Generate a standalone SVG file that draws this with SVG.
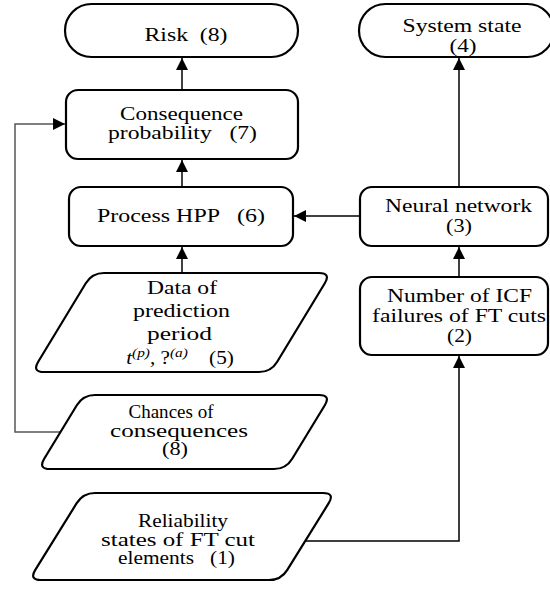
<svg xmlns="http://www.w3.org/2000/svg" width="550" height="589" viewBox="0 0 550 589">
<style>
.shape{fill:#fff;stroke:#000;stroke-width:2.2}
.t{font-family:'Liberation Serif','Times New Roman',serif;font-size:18px;fill:#000;white-space:pre}
.c{fill:none;stroke:#000;stroke-width:1.5}
.g{fill:none;stroke:#555;stroke-width:1.5}
</style>
<defs>
<marker id="ah" viewBox="0 0 12 12" refX="12" refY="6" markerWidth="12" markerHeight="12" markerUnits="userSpaceOnUse" orient="auto">
<path d="M0,0 L12,6 L0,12 Z" fill="#000"/>
</marker>
</defs>
<rect width="550" height="589" fill="#fff"/>
<g id="connectors">
<line class="c" x1="182" y1="90" x2="182" y2="58" marker-end="url(#ah)"/>
<line class="c" x1="182" y1="187" x2="182" y2="160" marker-end="url(#ah)"/>
<line class="c" x1="182" y1="273" x2="182" y2="247" marker-end="url(#ah)"/>
<line class="c" x1="360" y1="216" x2="294" y2="216" marker-end="url(#ah)"/>
<line class="c" x1="459" y1="277" x2="459" y2="247" marker-end="url(#ah)"/>
<line class="c" x1="459" y1="187" x2="459" y2="58" marker-end="url(#ah)"/>
<polyline class="c" points="305,541 459,541 459,356" marker-end="url(#ah)"/>
<polyline class="g" points="60,432 15,432 15,124 65,124" marker-end="url(#ah)"/>
</g>
<g id="n8-risk">
<rect class="shape" x="65" y="4" width="233" height="53" rx="26.5"/>
<text class="t" x="186" y="41" text-anchor="middle" textLength="83" lengthAdjust="spacingAndGlyphs">Risk  (8)</text>
</g>
<g id="n4-system-state">
<rect class="shape" x="359" y="4" width="195" height="53" rx="26.5"/>
<text class="t" x="462" y="32" text-anchor="middle" textLength="119" lengthAdjust="spacingAndGlyphs">System state</text>
<text class="t" x="463" y="52" text-anchor="middle" textLength="27" lengthAdjust="spacingAndGlyphs">(4)</text>
</g>
<g id="n7-consequence">
<rect class="shape" x="66" y="90" width="232" height="69" rx="12"/>
<text class="t" x="181.5" y="119.5" text-anchor="middle" textLength="123" lengthAdjust="spacingAndGlyphs">Consequence</text>
<text class="t" x="182.5" y="138.5" text-anchor="middle" textLength="149" lengthAdjust="spacingAndGlyphs">probability   (7)</text>
</g>
<g id="n6-hpp">
<rect class="shape" x="69" y="187" width="224" height="59" rx="12"/>
<text class="t" x="181" y="222" text-anchor="middle" textLength="168" lengthAdjust="spacingAndGlyphs">Process HPP   (6)</text>
</g>
<g id="n3-neural">
<rect class="shape" x="360" y="187" width="188" height="59" rx="12"/>
<text class="t" x="458.5" y="212" text-anchor="middle" textLength="147" lengthAdjust="spacingAndGlyphs">Neural network</text>
<text class="t" x="459" y="232" text-anchor="middle" textLength="26" lengthAdjust="spacingAndGlyphs">(3)</text>
</g>
<g id="n2-icf">
<rect class="shape" x="360" y="277" width="188" height="78" rx="12"/>
<text class="t" x="459.5" y="302" text-anchor="middle" textLength="145" lengthAdjust="spacingAndGlyphs">Number of ICF</text>
<text class="t" x="459" y="322" text-anchor="middle" textLength="174" lengthAdjust="spacingAndGlyphs">failures of FT cuts</text>
<text class="t" x="459.5" y="342" text-anchor="middle" textLength="25" lengthAdjust="spacingAndGlyphs">(2)</text>
</g>
<g id="n5-data">
<path class="shape" d="M104,273 L319,273 Q331,273 324.8,283.3 L277.2,361.7 Q271,372 259,372 L44,372 Q32,372 38.2,361.7 L85.8,283.3 Q92,273 104,273 Z"/>
<text class="t" x="182" y="294" text-anchor="middle" textLength="70" lengthAdjust="spacingAndGlyphs">Data of</text>
<text class="t" x="181.5" y="317" text-anchor="middle" textLength="97" lengthAdjust="spacingAndGlyphs">prediction</text>
<text class="t" x="179.5" y="340" text-anchor="middle" textLength="65" lengthAdjust="spacingAndGlyphs">period</text>
<text class="t" transform="translate(180,364) scale(1.18,1)" text-anchor="middle"><tspan font-style="italic">t</tspan><tspan dy="-7" font-size="13" font-style="italic">(p)</tspan><tspan dy="7">, ?</tspan><tspan dy="-7" font-size="13" font-style="italic">(a)</tspan><tspan dy="7">    (5)</tspan></text>
</g>
<g id="n8-chances">
<path class="shape" d="M95,395 L319,395 Q331,395 324.8,405.3 L292.2,458.7 Q286,469 274,469 L50,469 Q38,469 44.2,458.7 L76.8,405.3 Q83,395 95,395 Z"/>
<text class="t" x="171" y="418" text-anchor="middle" textLength="85" lengthAdjust="spacingAndGlyphs">Chances of</text>
<text class="t" x="179" y="436.5" text-anchor="middle" textLength="138" lengthAdjust="spacingAndGlyphs">consequences</text>
<text class="t" x="175" y="455" text-anchor="middle" textLength="26" lengthAdjust="spacingAndGlyphs">(8)</text>
</g>
<g id="n1-reliability">
<path class="shape" d="M95,493 L323,493 Q335,493 328.7,503.2 L287.3,569.8 Q281,580 269,580 L41,580 Q29,580 35.3,569.8 L76.7,503.2 Q83,493 95,493 Z"/>
<text class="t" x="183" y="527" text-anchor="middle" textLength="90" lengthAdjust="spacingAndGlyphs">Reliability</text>
<text class="t" x="178" y="545.5" text-anchor="middle" textLength="154" lengthAdjust="spacingAndGlyphs">states of FT cut</text>
<text class="t" x="176.5" y="564" text-anchor="middle" textLength="117" lengthAdjust="spacingAndGlyphs">elements   (1)</text>
</g>
</svg>
